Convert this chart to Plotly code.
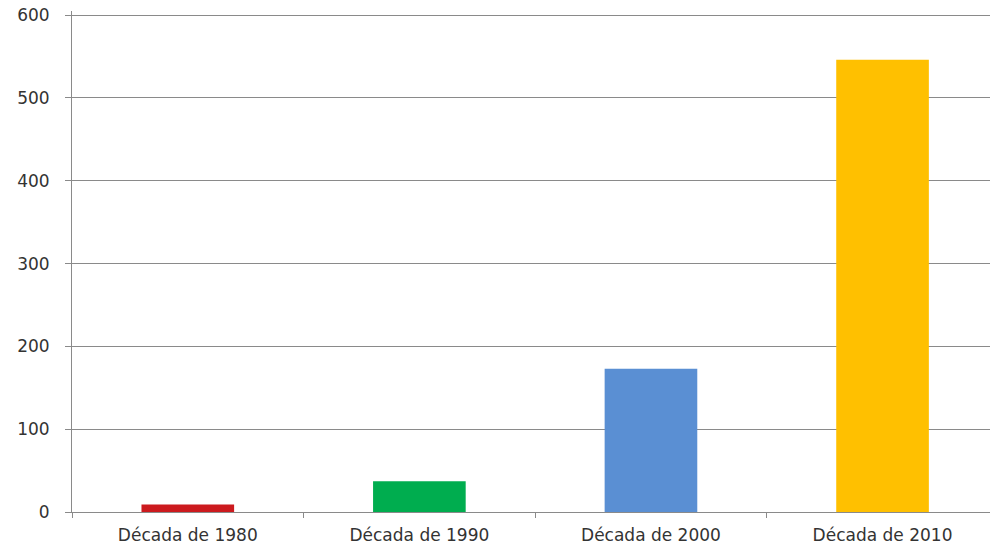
import plotly.graph_objects as go

# Decade categories and counts per decade
categories = ["Década de 1980", "Década de 1990", "Década de 2000", "Década de 2010"]
values = [9, 37, 173, 546]
bar_colors = ["#CC1A1E", "#00AD4F", "#5A8FD3", "#FFC000"]
y_ticks = [0, 100, 200, 300, 400, 500, 600]

fig = go.Figure(
    go.Bar(
        x=categories,
        y=values,
        marker=dict(color=bar_colors, line=dict(width=0)),
        width=0.40,
        showlegend=False,
    )
)

axis_gray = "#8a8a8a"
font_family = "DejaVu Sans"

fig.update_layout(
    template="none",
    width=992,
    height=549,
    margin=dict(l=72, r=2, t=11, b=37),
    paper_bgcolor="white",
    plot_bgcolor="white",
    font=dict(family=font_family, color="#333333"),
    xaxis=dict(
        range=[-0.5, 3.464],
        showgrid=False,
        showline=True,
        linecolor=axis_gray,
        linewidth=1,
        ticks="outside",
        tickson="boundaries",
        ticklen=5,
        tickcolor=axis_gray,
        ticklabelstandoff=8,
        tickfont=dict(size=17, family=font_family, color="#333333"),
        automargin=False,
        zeroline=False,
    ),
    yaxis=dict(
        range=[0, 605],
        tickvals=y_ticks,
        ticktext=[str(v) for v in y_ticks],
        showgrid=True,
        gridcolor=axis_gray,
        gridwidth=1,
        showline=True,
        linecolor=axis_gray,
        linewidth=1,
        ticks="outside",
        ticklen=6,
        tickcolor=axis_gray,
        ticklabelstandoff=12,
        tickfont=dict(size=17, family=font_family, color="#333333"),
        automargin=False,
        zeroline=False,
    ),
)

fig.write_html("out.html")
